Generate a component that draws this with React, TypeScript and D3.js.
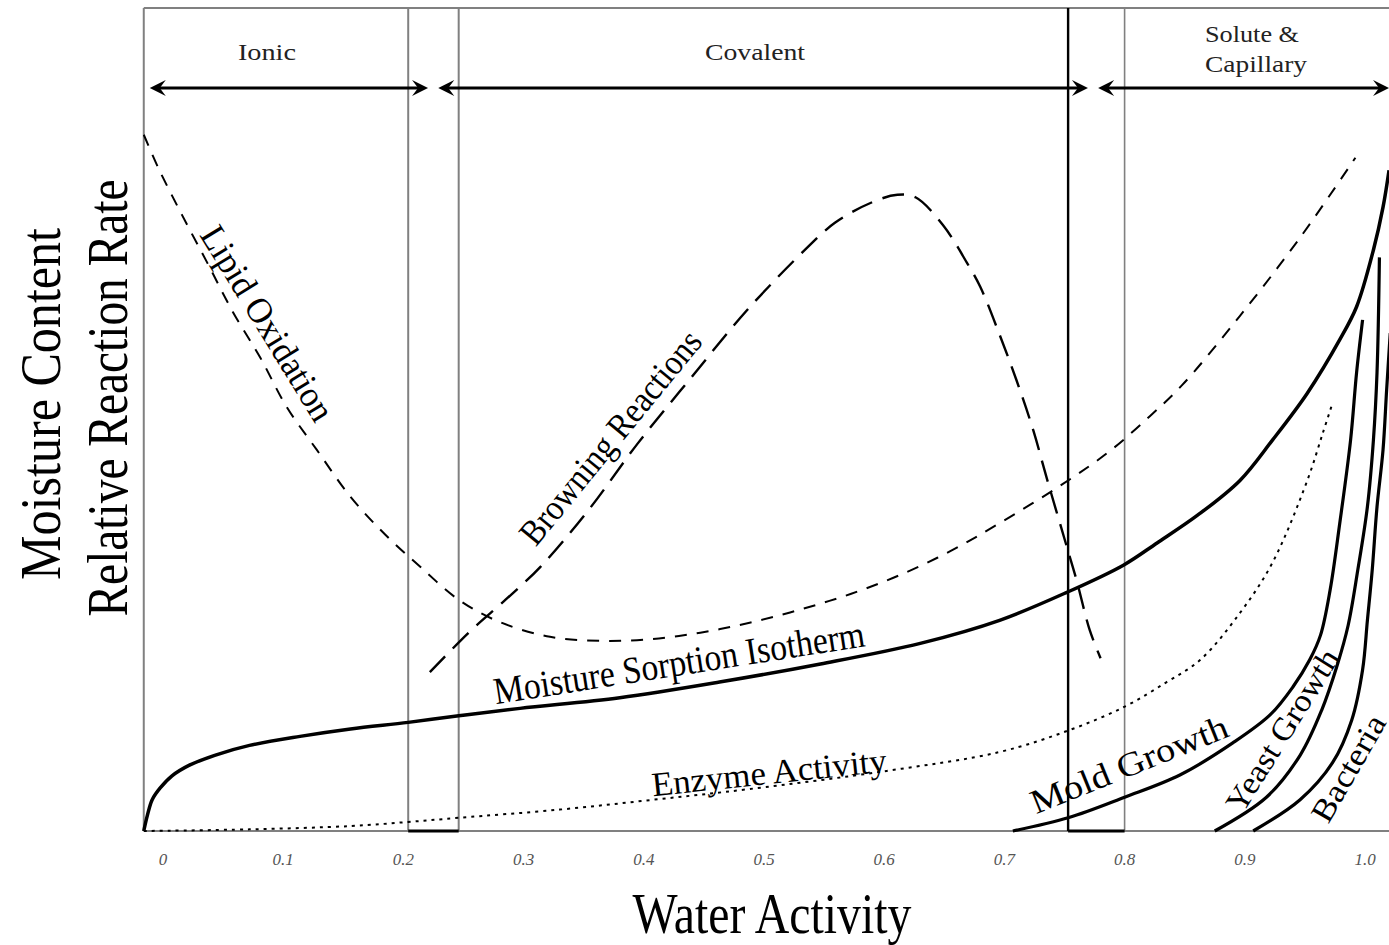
import React from "react";
import * as d3 from "d3";

const W = 1389;
const H = 945;

// Water activity ticks
const awTicks = [0, 0.1, 0.2, 0.3, 0.4, 0.5, 0.6, 0.7, 0.8, 0.9, 1.0];
const awTickLabels = ["0", "0.1", "0.2", "0.3", "0.4", "0.5", "0.6", "0.7", "0.8", "0.9", "1.0"];

// Plot extent in water activity units
const awMin = -0.016;

// Region boundaries (grey band edges) and the dark boundary line
const bandEdgesGrey = [0.204, 0.246, 0.8];
const bandEdgeDark = [0.753];
const bandBottomSpans: [number, number][] = [[0.204, 0.246], [0.753, 0.8]];

// Binding-type zones along the top
const zoneNames = ["Ionic", "Covalent", "Solute &|Capillary"];
const zoneFrom = [-0.011, 0.229, 0.778];
const zoneTo = [0.2205, 0.7695, 1.02];
const zoneLabelAt = [0.0865, 0.4925, 0.906];

// Moisture sorption isotherm
const isoAw = [-0.016, -0.013, -0.009, -0.0025, 0.0075, 0.022, 0.043, 0.072, 0.114, 0.156, 0.204, 0.246, 0.297, 0.38, 0.463, 0.547, 0.63, 0.696, 0.752, 0.799, 0.827, 0.861, 0.896, 0.923, 0.952, 0.979, 0.993, 1.007, 1.015, 1.02];
const isoVal = [0, 1.9, 3.8, 5.2, 6.7, 8.0, 9.2, 10.4, 11.5, 12.4, 13.2, 14.0, 14.9, 16.2, 18.1, 20.3, 22.8, 25.6, 29.0, 32.3, 35.0, 38.4, 42.6, 47.5, 53.2, 59.7, 63.7, 70.6, 75.8, 80.3];

// Lipid oxidation
const lipidAw = [-0.016, -0.004, 0.016, 0.037, 0.058, 0.081, 0.103, 0.128, 0.156, 0.185, 0.214, 0.246, 0.28, 0.322, 0.364, 0.405, 0.447, 0.488, 0.53, 0.572, 0.613, 0.655, 0.696, 0.749, 0.788, 0.821, 0.848, 0.896, 0.946, 0.992];
const lipidVal = [84.6, 80.6, 74.8, 69.0, 63.1, 57.5, 51.5, 46.3, 40.6, 36.0, 32.1, 28.1, 25.4, 23.6, 23.1, 23.3, 24.1, 25.3, 26.9, 28.8, 31.1, 34.0, 37.4, 42.2, 46.2, 50.4, 54.2, 62.6, 72.1, 81.8];

// Browning reactions
const brownAw = [0.222, 0.255, 0.285, 0.314, 0.354, 0.395, 0.44, 0.486, 0.534, 0.559, 0.59, 0.611, 0.626, 0.649, 0.669, 0.68, 0.696, 0.71, 0.724, 0.735, 0.752, 0.76, 0.771, 0.78];
const brownVal = [19.3, 24.2, 28.1, 32.1, 39.0, 47.1, 55.2, 63.3, 70.6, 73.9, 76.4, 77.3, 77.0, 73.6, 69.0, 66.1, 60.3, 54.8, 48.7, 43.0, 34.5, 30.5, 24.4, 21.0];

// Enzyme activity
const enzAw = [-0.016, 0.072, 0.156, 0.204, 0.246, 0.33, 0.408, 0.488, 0.602, 0.696, 0.753, 0.8, 0.835, 0.863, 0.896, 0.923, 0.952, 0.965, 0.973];
const enzVal = [0, 0.2, 0.6, 1.1, 1.6, 2.6, 3.8, 5.1, 7.3, 9.6, 12.2, 15.1, 18.1, 20.8, 26.5, 32.6, 42.6, 48.4, 52.0];

// Mold growth
const moldAw = [0.707, 0.753, 0.8, 0.846, 0.89, 0.921, 0.94, 0.954, 0.963, 0.971, 0.979, 0.988, 0.993, 0.998];
const moldVal = [0, 1.6, 4.1, 6.8, 10.7, 14.1, 17.5, 20.8, 23.8, 29.3, 37.4, 47.5, 55.7, 62.1];

// Yeast growth
const yeastAw = [0.875, 0.918, 0.946, 0.964, 0.977, 0.986, 0.994, 1.002, 1.007, 1.01, 1.012];
const yeastVal = [0, 4.1, 9.2, 14.7, 20.2, 25.0, 31.7, 39.4, 47.5, 55.7, 69.7];

// Bacteria
const bactAw = [0.907, 0.946, 0.973, 0.989, 0.998, 1.002, 1.006, 1.01, 1.015, 1.018, 1.021];
const bactVal = [0, 3.8, 8.3, 13.5, 19.6, 25.6, 31.7, 39.4, 46.3, 53.6, 60.5];

const xScale = d3.scaleLinear().domain([0, 1]).range([163, 1365]);
const yScale = d3.scaleLinear().domain([0, 100]).range([831, 8]);

const zip = (a: number[], b: number[]) => a.map((v, i) => [v, b[i]] as [number, number]);

const lineGen = d3
  .line<[number, number]>()
  .x((d) => xScale(d[0]))
  .y((d) => yScale(d[1]))
  .curve(d3.curveCatmullRom.alpha(0.5));

type Series = { name: string; data: [number, number][]; width: number; dash?: string };

const series: Series[] = [
  { name: "isotherm", data: zip(isoAw, isoVal), width: 3.5 },
  { name: "lipid", data: zip(lipidAw, lipidVal), width: 2, dash: "12 10" },
  { name: "browning", data: zip(brownAw, brownVal), width: 2.4, dash: "22 11" },
  { name: "enzyme", data: zip(enzAw, enzVal), width: 2, dash: "3 5" },
  { name: "mold", data: zip(moldAw, moldVal), width: 3.2 },
  { name: "yeast", data: zip(yeastAw, yeastVal), width: 3.2 },
  { name: "bacteria", data: zip(bactAw, bactVal), width: 3.2 },
];

// Curve annotations: centre in data units, angle, size, length
type CurveLabel = { text: string; aw: number; val: number; angle: number; size: number; len: number };
const curveLabels: CurveLabel[] = [
  { text: "Lipid Oxidation", aw: (268 - 163) / 1202, val: (831 - 323) / 8.23, angle: 58.4, size: 36, len: 222 },
  { text: "Browning Reactions", aw: (610 - 163) / 1202, val: (831 - 437) / 8.23, angle: -50.7, size: 36, len: 265 },
  { text: "Moisture Sorption Isotherm", aw: (679 - 163) / 1202, val: (831 - 662) / 8.23, angle: -8.9, size: 38, len: 375 },
  { text: "Enzyme Activity", aw: (769 - 163) / 1202, val: (831 - 772) / 8.23, angle: -6, size: 34, len: 236 },
  { text: "Mold Growth", aw: (1129 - 163) / 1202, val: (831 - 764) / 8.23, angle: -22, size: 34, len: 210 },
  { text: "Yeast Growth", aw: (1282 - 163) / 1202, val: (831 - 730) / 8.23, angle: -58, size: 32, len: 185 },
  { text: "Bacteria", aw: (1348 - 163) / 1202, val: (831 - 768) / 8.23, angle: -60, size: 32, len: 118 },
];

const FONT = "'Liberation Serif', 'DejaVu Serif', serif";

function arrowHead(tipX: number, y: number, dir: number) {
  // dir = -1 points left, +1 points right
  const L = 16;
  const h = 8;
  const notch = 10;
  return `M${tipX},${y} L${tipX - dir * L},${y - h} L${tipX - dir * notch},${y} L${tipX - dir * L},${y + h} Z`;
}

export default function App() {
  const left = xScale(awMin);
  const right = W;
  const top = yScale(100);
  const bottom = yScale(0);
  const arrowY = 88;

  return (
    <svg
      width={W}
      height={H}
      viewBox={`0 0 ${W} ${H}`}
      style={{ position: "absolute", left: 0, top: 0, background: "#fff" }}
    >
      <rect x={0} y={0} width={W} height={H} fill="#fff" />

      {/* frame */}
      <line x1={left} x2={right} y1={top} y2={top} stroke="#808080" strokeWidth={2} />
      <line x1={left} x2={right} y1={bottom} y2={bottom} stroke="#808080" strokeWidth={2.2} />
      <line x1={left} x2={left} y1={top} y2={bottom} stroke="#808080" strokeWidth={2} />

      {/* region boundaries */}
      {bandEdgesGrey.map((v, i) => (
        <line key={`g${i}`} x1={xScale(v)} x2={xScale(v)} y1={top} y2={bottom} stroke="#808080" strokeWidth={i === 2 ? 1.6 : 2} />
      ))}
      {bandEdgeDark.map((v, i) => (
        <line key={`d${i}`} x1={xScale(v)} x2={xScale(v)} y1={top} y2={bottom} stroke="#000" strokeWidth={2.4} />
      ))}
      {bandBottomSpans.map(([a, b], i) => (
        <line key={`s${i}`} x1={xScale(a)} x2={xScale(b)} y1={bottom} y2={bottom} stroke="#000" strokeWidth={3} />
      ))}

      {/* zone arrows and names */}
      {zoneNames.map((name, i) => {
        const x1 = xScale(zoneFrom[i]);
        const x2 = xScale(zoneTo[i]);
        const lines = name.split("|");
        const cx = xScale(zoneLabelAt[i]);
        return (
          <g key={name}>
            <line x1={x1 + 6} x2={x2 - 6} y1={arrowY} y2={arrowY} stroke="#000" strokeWidth={3} />
            <path d={arrowHead(x1, arrowY, -1)} fill="#000" />
            <path d={arrowHead(x2, arrowY, 1)} fill="#000" />
            {lines.length === 1 ? (
              <text x={cx} y={60} textAnchor="middle" fontFamily={FONT} fontSize={24} fill="#222"
                textLength={name === "Ionic" ? 58 : 100} lengthAdjust="spacingAndGlyphs">
                {name}
              </text>
            ) : (
              lines.map((t, j) => (
                <text key={t} x={cx + j * 4} y={42 + j * 30} textAnchor="middle" fontFamily={FONT} fontSize={24} fill="#222"
                  textLength={j === 0 ? 94 : 102} lengthAdjust="spacingAndGlyphs">
                  {t}
                </text>
              ))
            )}
          </g>
        );
      })}

      {/* curves */}
      {series.map((s) => (
        <path
          key={s.name}
          d={lineGen(s.data) || ""}
          fill="none"
          stroke="#000"
          strokeWidth={s.width}
          strokeDasharray={s.dash}
          strokeLinecap="butt"
          strokeLinejoin="round"
        />
      ))}

      {/* curve labels */}
      {curveLabels.map((l) => (
        <g key={l.text} transform={`translate(${xScale(l.aw)},${yScale(l.val)}) rotate(${l.angle})`}>
          <text
            x={0}
            y={0}
            dy="0.35em"
            textAnchor="middle"
            fontFamily={FONT}
            fontSize={l.size}
            fill="#000"
            textLength={l.len}
            lengthAdjust="spacingAndGlyphs"
          >
            {l.text}
          </text>
        </g>
      ))}

      {/* x tick labels */}
      {awTicks.map((v, i) => (
        <text key={v} x={xScale(v)} y={865} textAnchor="middle" fontFamily={FONT} fontStyle="italic" fontSize={17} fill="#555">
          {awTickLabels[i]}
        </text>
      ))}

      {/* axis titles */}
      <text x={772} y={933} textAnchor="middle" fontFamily={FONT} fontSize={56} fill="#000" textLength={279} lengthAdjust="spacingAndGlyphs">
        Water Activity
      </text>
      <g transform="translate(60,404) rotate(-90)">
        <text textAnchor="middle" fontFamily={FONT} fontSize={56} fill="#000" textLength={352} lengthAdjust="spacingAndGlyphs">
          Moisture Content
        </text>
      </g>
      <g transform="translate(127,398) rotate(-90)">
        <text textAnchor="middle" fontFamily={FONT} fontSize={56} fill="#000" textLength={437} lengthAdjust="spacingAndGlyphs">
          Relative Reaction Rate
        </text>
      </g>
    </svg>
  );
}
